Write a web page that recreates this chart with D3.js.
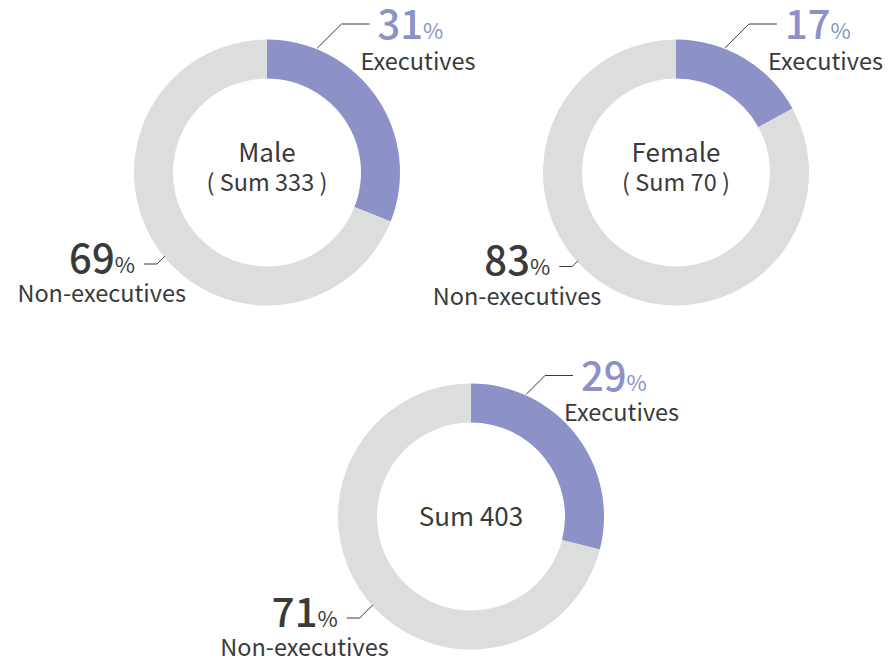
<!DOCTYPE html>
<html>
<head>
<meta charset="utf-8">
<script src="https://cdn.jsdelivr.net/npm/d3@7"></script>
<style>
  html, body { margin: 0; padding: 0; background: #ffffff; }
  svg { display: block; font-family: "Noto Sans CJK JP", "Noto Sans", sans-serif; }
</style>
</head>
<body>
<svg id="chart" width="888" height="660"></svg>
<script>
// Executives vs non-executives, by gender and in total (percent of headcount)
const groups = ["Male", "Female", "Total"];
const centerTitles = ["Male", "Female", null];
const sums = [333, 70, 403];
const executives = [31, 17, 29];
const nonExecutives = [69, 83, 71];
const sliceNames = ["Executives", "Non-executives"];

const colors = { exec: "#8c91c8", rest: "#dcdedd", text: "#3a3a3a", line: "#3a3a3a" };

// Placement of each donut and its leader lines (angles in degrees, clockwise from 12 o'clock)
const layout = [
  { cx: 267, cy: 172.5, execAng: 22,   execLineDy: -148.5, restAng: 230.7, restLineDy: 91.5 },
  { cx: 676, cy: 172.5, execAng: 21.5, execLineDy: -148.5, restAng: 228,   restLineDy: 94 },
  { cx: 471, cy: 516.5, execAng: 24.3, execLineDy: -141,   restAng: 228,   restLineDy: 101.5 }
];

const outerR = 133, innerR = 94;
const labelSize = 23.5;
const svg = d3.select("#chart");

const pie = d3.pie().sort(null).value(d => d.value);
const arc = d3.arc().innerRadius(innerR).outerRadius(outerR);

function polar(r, deg) {
  const a = deg * Math.PI / 180;
  return [r * Math.sin(a), -r * Math.cos(a)];
}

groups.forEach((g, i) => {
  const L = layout[i];
  const data = [
    { key: "exec", name: sliceNames[0], value: executives[i] },
    { key: "rest", name: sliceNames[1], value: nonExecutives[i] }
  ];
  const gEl = svg.append("g").attr("transform", `translate(${L.cx},${L.cy})`);

  gEl.selectAll("path.slice")
    .data(pie(data))
    .join("path")
    .attr("class", "slice")
    .attr("d", arc)
    .attr("fill", d => colors[d.data.key]);

  // centre caption
  if (centerTitles[i]) {
    gEl.append("text").attr("text-anchor", "middle").attr("y", -11)
      .attr("font-size", 26).attr("fill", colors.text).text(centerTitles[i]);
    gEl.append("text").attr("text-anchor", "middle").attr("y", 18)
      .attr("font-size", 23.5).attr("fill", colors.text).text(`( Sum ${sums[i]} )`);
  } else {
    gEl.append("text").attr("text-anchor", "middle").attr("y", 9)
      .attr("font-size", 26).attr("fill", colors.text).text(`Sum ${sums[i]}`);
  }

  // executives leader: diagonal up-right then horizontal
  const [ex, ey] = polar(outerR + 1, L.execAng);
  const eElbowY = L.execLineDy;
  const eElbowX = ex + (ey - eElbowY);
  const eEndX = eElbowX + 28;
  gEl.append("polyline")
    .attr("points", [[ex, ey], [eElbowX, eElbowY], [eEndX, eElbowY]].map(p => p.join(",")).join(" "))
    .attr("fill", "none").attr("stroke", colors.line).attr("stroke-width", 1);

  const eNum = gEl.append("text").attr("x", eEndX + 8).attr("y", eElbowY + 15)
    .attr("fill", colors.exec);
  eNum.append("tspan").attr("font-size", 40).attr("font-weight", 500).text(executives[i]);
  eNum.append("tspan").attr("font-size", 22).text("%");
  gEl.append("text").attr("x", eEndX - 9).attr("y", eElbowY + 45.5)
    .attr("font-size", labelSize).attr("fill", colors.text).text(data[0].name);

  // non-executives leader: diagonal down-left then horizontal
  const [rx, ry] = polar(outerR - 1, L.restAng);
  const rElbowY = L.restLineDy;
  const rElbowX = rx - (rElbowY - ry);
  const rEndX = rElbowX - 13;
  gEl.append("polyline")
    .attr("points", [[rx, ry], [rElbowX, rElbowY], [rEndX, rElbowY]].map(p => p.join(",")).join(" "))
    .attr("fill", "none").attr("stroke", colors.line).attr("stroke-width", 1);

  const rNum = gEl.append("text").attr("x", rEndX - 9).attr("y", rElbowY + 8.5)
    .attr("text-anchor", "end").attr("fill", colors.text);
  rNum.append("tspan").attr("font-size", 40).attr("font-weight", 500).text(nonExecutives[i]);
  rNum.append("tspan").attr("font-size", 22).text("%");
  gEl.append("text").attr("x", rEndX + 42).attr("y", rElbowY + 38)
    .attr("text-anchor", "end").attr("font-size", labelSize).attr("fill", colors.text).text(data[1].name);
});
</script>
</body>
</html>
